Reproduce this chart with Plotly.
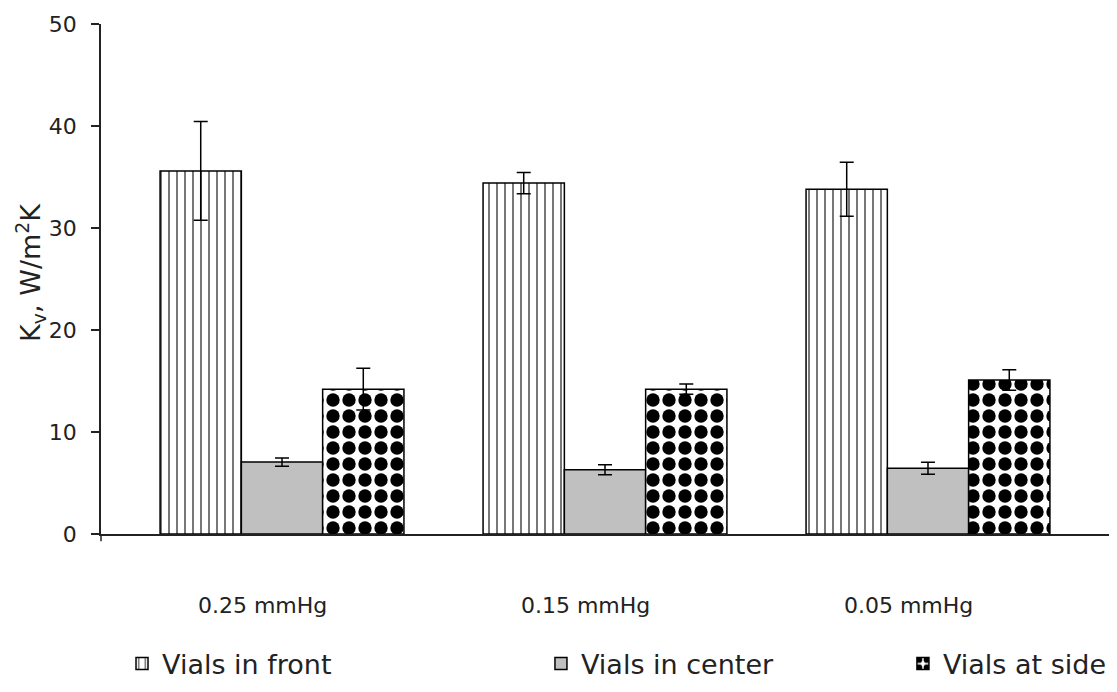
import plotly.graph_objects as go

categories = ["0.25 mmHg", "0.15 mmHg", "0.05 mmHg"]
series_names = ["Vials in front", "Vials in center", "Vials at side"]
front_vals = [35.6, 34.4, 33.8]
front_err = [4.85, 1.05, 2.65]
center_vals = [7.05, 6.3, 6.45]
center_err = [0.4, 0.5, 0.58]
side_vals = [14.2, 14.2, 15.1]
side_err = [2.05, 0.5, 1.0]
y_ticks = [0, 10, 20, 30, 40, 50]

FONT = "DejaVu Sans"
TXT = "#222"
xpos = list(range(len(categories)))

def bar(name, vals, errs, marker, legend):
    return go.Bar(
        name=name, x=xpos, y=vals, legend=legend,
        error_y=dict(type="data", array=errs, visible=True, color="black",
                     thickness=1.5, width=7),
        marker=marker,
    )

fig = go.Figure()
fig.add_trace(bar(series_names[0], front_vals, front_err, dict(
    color="white", line=dict(color="black", width=1.5),
    pattern=dict(shape="|", fgcolor="#555", bgcolor="white", size=8,
                 solidity=0.2, fillmode="replace")), "legend"))
fig.add_trace(bar(series_names[1], center_vals, center_err, dict(
    color="#c0c0c0", line=dict(color="black", width=1.5)), "legend2"))
fig.add_trace(bar(series_names[2], side_vals, side_err, dict(
    color="white", line=dict(color="black", width=1.5),
    pattern=dict(shape=".", fgcolor="black", bgcolor="white", size=16,
                 solidity=0.55, fillmode="replace")), "legend3"))

def leg(x):
    return dict(orientation="h", x=x, xanchor="left", y=-0.207, yanchor="top",
                font=dict(family=FONT, size=27, color=TXT),
                bgcolor="rgba(0,0,0,0)")

fig.update_layout(
    width=1110, height=684,
    margin=dict(l=93, r=7, t=16, b=158, autoexpand=False),
    paper_bgcolor="white", plot_bgcolor="white",
    barmode="group", bargap=0.245, bargroupgap=0,
    font=dict(family=FONT, size=22, color=TXT),
    showlegend=True,
    legend=leg(0.0208), legend2=leg(0.4356), legend3=leg(0.794),
)

fig.update_xaxes(
    range=[-0.5604, 2.5666],
    tickmode="array",
    tickvals=[i - 0.06 for i in xpos],
    ticktext=categories,
    ticks="", ticklabelstandoff=51,
    showline=True, linecolor=TXT, linewidth=1.5,
    showgrid=False, zeroline=False,
    tickfont=dict(family=FONT, size=22, color=TXT),
)
fig.update_yaxes(
    range=[0, 50], tickvals=y_ticks,
    ticks="outside", ticklen=8, tickwidth=1.5, tickcolor=TXT,
    ticklabelstandoff=10,
    showline=True, linecolor=TXT, linewidth=1.5,
    showgrid=False, zeroline=False,
    tickfont=dict(family=FONT, size=22, color=TXT),
)

# small end ticks on the category axis
for xe in (0, 1):
    fig.add_shape(type="line", xref="paper", yref="paper",
                  x0=xe, x1=xe, y0=0, y1=-0.014,
                  line=dict(color=TXT, width=1.5))

fig.add_annotation(
    text="K<sub>v</sub>, W/m<sup>2</sup>K", textangle=-90,
    xref="paper", yref="paper", x=-0.0693, y=0.512,
    xanchor="center", yanchor="middle", showarrow=False,
    font=dict(family=FONT, size=27, color=TXT),
)

fig.write_html("out.html")
